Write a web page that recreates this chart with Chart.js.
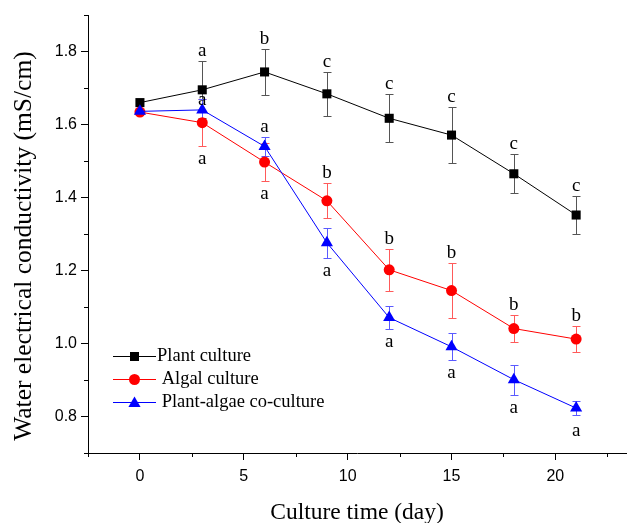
<!DOCTYPE html>
<html><head><meta charset="utf-8">
<script src="https://cdn.jsdelivr.net/npm/chart.js@4/dist/chart.umd.min.js"></script>
<style>html,body{margin:0;padding:0;background:#fff}#wrap{width:633px;height:523px}</style>
</head><body><div id="wrap"><canvas id="c" width="633" height="523"></canvas></div>
<script>
// ---- data ----
const days = [0, 3, 6, 9, 12, 15, 18, 21];
const plantEC  = [1.660, 1.695, 1.744, 1.684, 1.617, 1.571, 1.465, 1.352];
const plantErr = [0, 0.078, 0.062, 0.061, 0.066, 0.077, 0.053, 0.053];
const algalEC  = [1.634, 1.605, 1.497, 1.391, 1.202, 1.145, 1.041, 1.012];
const algalErr = [0.004, 0.065, 0.053, 0.048, 0.057, 0.075, 0.037, 0.036];
const coEC     = [1.636, 1.640, 1.540, 1.276, 1.071, 0.991, 0.901, 0.823];
const coErr    = [0.004, 0.030, 0.025, 0.041, 0.032, 0.037, 0.041, 0.019];
const plantSig = ['', 'a', 'b', 'c', 'c', 'c', 'c', 'c'];
const algalSig = ['', 'a', 'a', 'b', 'b', 'b', 'b', 'b'];
const coSig    = ['', 'a', 'a', 'a', 'a', 'a', 'a', 'a'];
// letter placement (config, not data)
const plantSigSide = ['', 'up', 'up', 'up', 'up', 'up', 'up', 'up'];
const algalSigSide = ['', 'down', 'down', 'up', 'up', 'up', 'up', 'up'];
const coSigSide    = ['', 'up', 'up', 'down', 'down', 'down', 'down', 'down'];
const coSigNudge   = [0, 11, 0, 0, 0, 0, 0, 3];
const zeroNudge    = [0, 0, 0, 0, 0, 0, 0, 0];
const seriesNames = ['Plant culture', ' Algal culture', ' Plant-algae co-culture'];
const xTickLabels = [0, 5, 10, 15, 20];
const yTickLabels = [0.8, 1.0, 1.2, 1.4, 1.6, 1.8];
const xTitle = 'Culture time (day)';
const yTitle = 'Water electrical conductivity (mS/cm)';

const SERIF = "'Liberation Serif','Times New Roman',serif";
const SANS = "'Liberation Sans',Arial,sans-serif";

const isMajorX = v => xTickLabels.some(t => Math.abs(t - v) < 1e-6);
const isMajorY = v => yTickLabels.some(t => Math.abs(t - v) < 1e-6);

function mk(label, vals, errs, sig, side, nudge, color, errColor, style, radius, order) {
  return {
    label, data: days.map((d, i) => ({x: d, y: vals[i]})),
    err: errs, sig, side, nudge, errColor,
    borderColor: color, backgroundColor: color, borderWidth: 1,
    pointStyle: style, pointRadius: radius, pointBorderWidth: 0,
    pointBackgroundColor: color, tension: 0, order
  };
}

const datasets = [
  mk(seriesNames[0], plantEC, plantErr, plantSig, plantSigSide, zeroNudge, '#000000', '#555555', 'rect', 6.4, 3),
  mk(seriesNames[1], algalEC, algalErr, algalSig, algalSigSide, zeroNudge, '#ff0000', '#ff5a5a', 'circle', 5.5, 2),
  mk(seriesNames[2], coEC, coErr, coSig, coSigSide, coSigNudge, '#0000ff', '#5a5aff', 'triangle', 7, 1)
];

const deco = {
  id: 'deco',
  beforeDatasetsDraw(chart) {
    const {ctx, scales: {x, y}} = chart;
    ctx.save();
    ctx.lineWidth = 1;
    chart.data.datasets.forEach(ds => {
      ctx.strokeStyle = ds.errColor;
      ds.data.forEach((p, i) => {
        const e = ds.err[i]; if (!e) return;
        const px = Math.round(x.getPixelForValue(p.x)) + 0.5;
        const yt = Math.round(y.getPixelForValue(p.y + e)) + 0.5;
        const yb = Math.round(y.getPixelForValue(p.y - e)) + 0.5;
        ctx.beginPath();
        ctx.moveTo(px, yt); ctx.lineTo(px, yb);
        ctx.moveTo(px - 4, yt); ctx.lineTo(px + 4, yt);
        ctx.moveTo(px - 4, yb); ctx.lineTo(px + 4, yb);
        ctx.stroke();
      });
    });
    ctx.restore();
  },
  afterDatasetsDraw(chart) {
    const {ctx, scales: {x, y}} = chart;
    ctx.save();
    ctx.fillStyle = '#000';
    ctx.font = '19px ' + SERIF;
    ctx.textAlign = 'center';
    ctx.textBaseline = 'alphabetic';
    chart.data.datasets.forEach(ds => {
      ds.data.forEach((p, i) => {
        const s = ds.sig[i]; if (!s) return;
        const px = x.getPixelForValue(p.x);
        const n = ds.nudge[i];
        if (ds.side[i] === 'up') {
          ctx.fillText(s, px, y.getPixelForValue(p.y + ds.err[i]) - 5 + n);
        } else {
          ctx.fillText(s, px, y.getPixelForValue(p.y - ds.err[i]) + 18 + n);
        }
      });
    });
    ctx.restore();
  },
  afterDraw(chart) {
    const {ctx, scales: {x, y}, chartArea} = chart;
    ctx.save();
    // minor ticks
    ctx.strokeStyle = '#000'; ctx.lineWidth = 1;
    ctx.beginPath();
    x.ticks.forEach(t => {
      if (isMajorX(t.value)) return;
      const px = Math.round(x.getPixelForValue(t.value)) + 0.5;
      ctx.moveTo(px, chartArea.bottom); ctx.lineTo(px, chartArea.bottom + 4);
    });
    y.ticks.forEach(t => {
      if (isMajorY(t.value)) return;
      const py = Math.round(y.getPixelForValue(t.value)) + 0.5;
      ctx.moveTo(chartArea.left, py); ctx.lineTo(chartArea.left - 4, py);
    });
    ctx.stroke();
    // y title
    ctx.save();
    ctx.translate(24, 246);
    ctx.rotate(-Math.PI / 2);
    ctx.font = '25.5px ' + SERIF;
    ctx.fillStyle = '#000';
    ctx.textAlign = 'center'; ctx.textBaseline = 'middle';
    ctx.fillText(yTitle, 0, 0);
    ctx.restore();
    // legend
    const rows = [356, 379, 402];
    ctx.font = '18.5px ' + SERIF;
    ctx.textBaseline = 'middle'; ctx.textAlign = 'left';
    chart.data.datasets.forEach((ds, i) => {
      const ry = rows[i] + 0.5;
      ctx.strokeStyle = ds.borderColor; ctx.lineWidth = 1;
      ctx.beginPath(); ctx.moveTo(113, ry); ctx.lineTo(156, ry); ctx.stroke();
      ctx.fillStyle = ds.borderColor;
      const cx = 134.5;
      ctx.beginPath();
      if (ds.pointStyle === 'rect') {
        ctx.rect(cx - 4.5, ry - 4.5, 9, 9);
      } else if (ds.pointStyle === 'circle') {
        ctx.arc(cx, ry, 5.5, 0, Math.PI * 2);
      } else {
        ctx.moveTo(cx, ry - 6); ctx.lineTo(cx + 6.1, ry + 4.5); ctx.lineTo(cx - 6.1, ry + 4.5); ctx.closePath();
      }
      ctx.fill();
      ctx.fillStyle = '#000';
      ctx.fillText(ds.label, 157, ry);
    });
    ctx.restore();
  }
};

new Chart(document.getElementById('c'), {
  type: 'line',
  data: {datasets},
  plugins: [deco],
  options: {
    responsive: false, animation: false,
    layout: {padding: {top: 15, right: 1, left: 0, bottom: 0}},
    plugins: {legend: {display: false}, tooltip: {enabled: false}},
    scales: {
      x: {
        type: 'linear', min: -2.5, max: 23.4,
        ticks: {stepSize: 2.5, includeBounds: false, autoSkip: false, maxRotation: 0, padding: 7,
          color: '#000', font: {family: SANS, size: 16},
          callback: v => isMajorX(v) ? String(Math.round(v)) : ''},
        grid: {drawOnChartArea: false, tickLength: 7, tickWidth: 1,
          tickColor: c => (c.tick && isMajorX(c.tick.value)) ? '#000' : 'rgba(0,0,0,0)'},
        border: {color: '#000', width: 1},
        title: {display: true, text: xTitle, color: '#000',
          font: {family: SERIF, size: 23.5, lineHeight: 1}, padding: {top: 0, bottom: -2}},
        afterFit(s) { s.height = 70; }
      },
      y: {
        type: 'linear', min: 0.7, max: 1.9,
        ticks: {stepSize: 0.1, includeBounds: false, autoSkip: false, padding: 4,
          color: '#000', font: {family: SANS, size: 16},
          callback: v => isMajorY(v) ? v.toFixed(1) : ''},
        grid: {drawOnChartArea: false, tickLength: 7, tickWidth: 1,
          tickColor: c => (c.tick && isMajorY(c.tick.value)) ? '#000' : 'rgba(0,0,0,0)'},
        border: {color: '#000', width: 1},
        title: {display: false},
        afterFit(s) { s.width = 88; }
      }
    }
  }
});
</script></body></html>
